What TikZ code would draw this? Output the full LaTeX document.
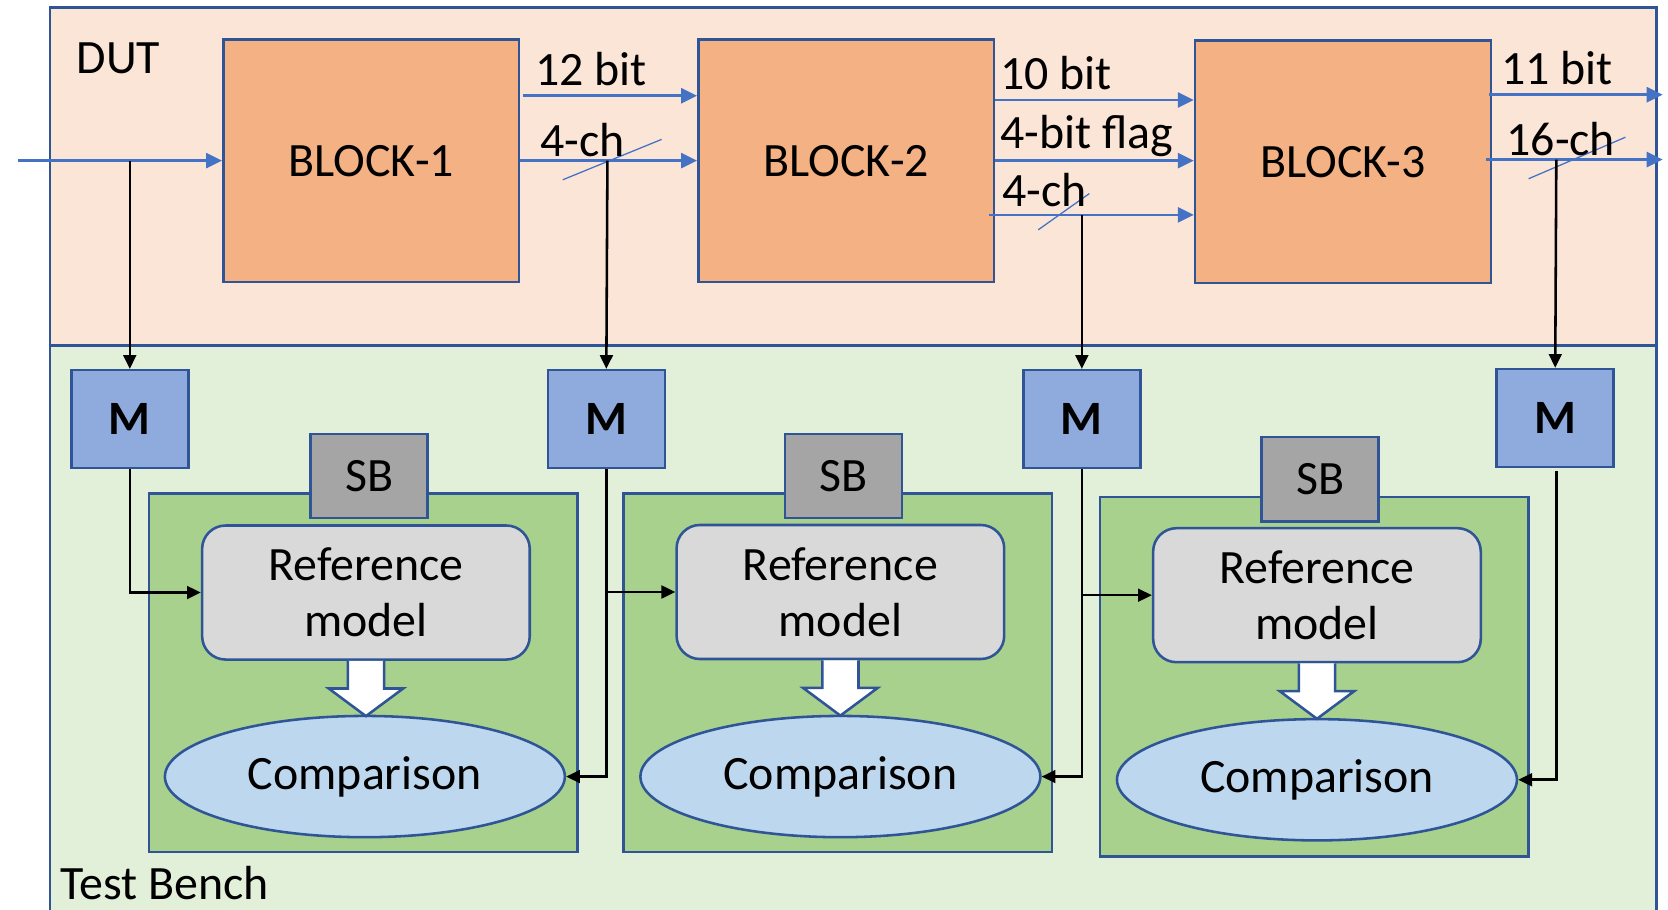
\documentclass[tikz,border=0pt]{standalone}
\usepackage{fontspec}
\setmainfont{Carlito}
\usetikzlibrary{shapes.geometric,arrows.meta,calc}
\definecolor{dutfill}{HTML}{FBE5D6}
\definecolor{tbfill}{HTML}{E2F0D9}
\definecolor{blkfill}{HTML}{F4B183}
\definecolor{bord}{HTML}{2F5597}
\definecolor{monfill}{HTML}{8FAADC}
\definecolor{grnfill}{HTML}{A9D18E}
\definecolor{sbfill}{HTML}{A5A5A5}
\definecolor{rmfill}{HTML}{D9D9D9}
\definecolor{cmpfill}{HTML}{BDD7EE}
\definecolor{sigblue}{HTML}{4472C4}
\newcommand\bigfont{\fontsize{45}{53}\selectfont}
\newcommand\fatdown[1]{%
  \draw[fatarr, shift={(#1)}] (-17,0) -- (-17,26) -- (-35,26) -- (0,52) -- (35,26) -- (17,26) -- (17,0);}
\begin{document}
\begin{tikzpicture}[x=1pt,y=-1pt,
  region/.style={draw=bord, line width=2.6pt, inner sep=0pt},
  blk/.style={draw=bord, line width=2.4pt, fill=blkfill, minimum width=278pt, minimum height=228pt, inner sep=0pt, font=\bigfont},
  mon/.style={draw=bord, line width=2.4pt, fill=monfill, minimum width=110pt, minimum height=92pt, inner sep=0pt, font=\bigfont\bfseries},
  grn/.style={draw=bord, line width=2.4pt, fill=grnfill, minimum width=403pt, minimum height=337pt, inner sep=0pt},
  sbx/.style={draw=bord, line width=2.4pt, fill=sbfill, minimum width=110pt, minimum height=79pt, inner sep=0pt, font=\bigfont},
  refm/.style={draw=bord, line width=2.4pt, fill=rmfill, rounded corners=22pt, minimum width=308pt, minimum height=126pt, inner sep=0pt, align=center, font=\bigfont},
  cmp/.style={ellipse, draw=bord, line width=2.4pt, fill=cmpfill, minimum width=376pt, minimum height=114pt, inner sep=0pt, font=\bigfont},
  fatarr/.style={draw=bord, line width=2.4pt, fill=white, line join=miter},
  lbl/.style={anchor=base west, inner sep=0pt, font=\bigfont},
  sig/.style={draw=sigblue, line width=2.6pt, -{Triangle[length=15pt,width=14pt]}},
  slash/.style={draw=sigblue, line width=1.2pt},
  tap/.style={draw=black, line width=2.4pt, -{Triangle[length=13pt,width=12pt]}}]
\useasboundingbox (0,0) rectangle (1568,855);
\clip (0,0) rectangle (1568,855);

% DUT and test bench regions
\node[region, fill=tbfill, minimum width=1510pt, minimum height=560pt] (tb) at (802,605) {};
\node[region, fill=dutfill, minimum width=1510pt, minimum height=318pt] (dut) at (802,166) {};
\node[lbl] (dutlbl) at (72,69) {DUT};
\node[lbl] (tblbl) at (57,846) {Test Bench};

% DUT blocks
\node[blk] (b1) at (349,151) {BLOCK-1};
\node[blk] (b2) at (795.5,151) {BLOCK-2};
\node[blk] (b3) at (1262.5,152) {BLOCK-3};

% signal rows
\coordinate (in)   at (17,151);
\coordinate (r12)  at (0,90);
\coordinate (r4a)  at (0,151);
\coordinate (r10)  at (0,94);
\coordinate (rfl)  at (0,151);
\coordinate (r4b)  at (0,202);
\coordinate (r11)  at (0,89);
\coordinate (r16)  at (0,150);
\coordinate (o11)  at (1563,89);
\coordinate (o16)  at (1563,150);

\draw[sig] (in) -- (b1.west);
\draw[sig] ($(b1.east |- r12)+(2,0)$) -- (b2.west |- r12);
\draw[sig] (b1.east |- r4a) -- (b2.west |- r4a);
\draw[sig] (b2.east |- r10) -- (b3.west |- r10);
\draw[sig] (b2.east |- rfl) -- (b3.west |- rfl);
\draw[sig] ($(b2.east |- r4b)+(-6,0)$) -- (b3.west |- r4b);
\draw[sig] ($(b3.east |- r11)+(-3,0)$) -- (o11);
\draw[sig] ($(b3.east |- r16)+(-6,0)$) -- (o16);

% bus width marks
\draw[slash] (529,169) -- (622,131);
\draw[slash] (976,216) -- (1024,182);
\draw[slash] (1437,168) -- (1528,129);

% signal labels
\node[lbl] (l12) at (503,80) {12 bit};
\node[lbl] (l4a) at (508,147) {4-ch};
\node[lbl] (l10) at (940,84) {10 bit};
\node[lbl] (lfl) at (940,140) {4-bit flag};
\node[lbl] (l4b) at (942,194) {4-ch};
\node[lbl] (l11) at (1411,79) {11 bit};
\node[lbl] (l16) at (1416,146) {16-ch};

% monitors
\node[mon] (m1) at (122,394) {M};
\node[mon] (m2) at (570,394) {M};
\node[mon] (m3) at (1017,394) {M};
\node[mon] (m4) at (1462,393) {M};

% scoreboards
\node[grn] (g1) at (341.5,632.5) {};
\node[grn] (g2) at (787.5,632.5) {};
\node[grn, minimum height=338pt] (g3) at (1235.5,636) {};
\node[sbx] (sb1) at (347,447.5) {SB};
\node[sbx] (sb2) at (793,447.5) {SB};
\node[sbx] (sb3) at (1241,450.5) {SB};
\node[refm] (rm1) at (344,557) {Reference\\model};
\node[refm] (rm2) at (790,556.5) {Reference\\model};
\node[refm] (rm3) at (1238,559.5) {Reference\\model};
\node[cmp] (c1) at (343,730) {\raisebox{-3pt}{Comparison}};
\node[cmp] (c2) at (790,730) {\raisebox{-3pt}{Comparison}};
\node[cmp] (c3) at (1238,733) {\raisebox{-3pt}{Comparison}};
\fatdown{rm1.south}
\fatdown{rm2.south}
\fatdown{rm3.south}

% monitor taps
\coordinate (t1) at (122,151);
\coordinate (t2) at (571,151);
\coordinate (t3) at (1017,202);
\coordinate (t4) at (1463,150);
\draw[tap] (t1) -- (m1.north);
\draw[tap] (t2) -- (m2.north);
\draw[tap] (t3) -- (m3.north);
\draw[tap] (t4) -- (m4.north);

% monitor outputs into scoreboards
\draw[tap] (m1.south) |- (rm1.west);
\draw[tap] (m2.south) |- (c1.east);
\draw[tap] (m2.south |- rm2.west) -- (rm2.west);
\draw[tap] (m3.south) |- (c2.east);
\draw[tap] (m3.south |- rm3.west) -- (rm3.west);
\draw[tap] ($(m4.south)+(1,3)$) |- (c3.east);
\end{tikzpicture}
\end{document}
